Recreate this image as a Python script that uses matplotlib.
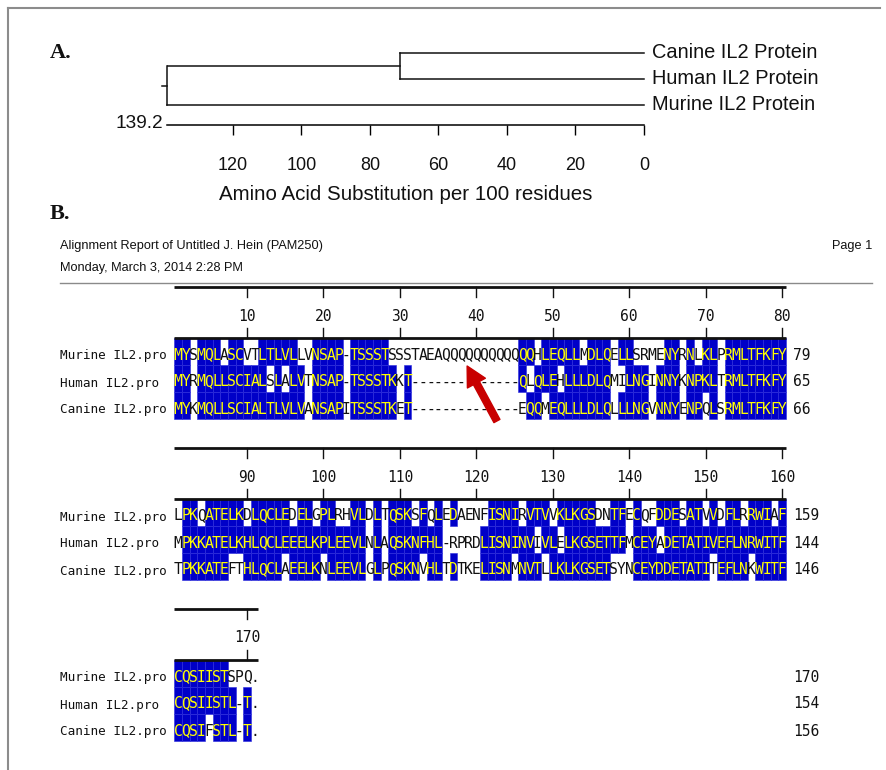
import matplotlib
matplotlib.use('Agg')
import matplotlib.pyplot as plt
from matplotlib import font_manager
from matplotlib.patches import Rectangle

W, H = 887, 770

# ---------------- panel A: distance tree ----------------
leaf_names = ['Canine IL2 Protein', 'Human IL2 Protein', 'Murine IL2 Protein']
node_dist = 71.2          # canine / human join
root_dist = 139.2
dist_ticks = [120, 100, 80, 60, 40, 20, 0]
dist_xlabel = 'Amino Acid Substitution per 100 residues'

# ---------------- panel B: alignment ----------------
seq_names = ['Murine IL2.pro', 'Human IL2.pro', 'Canine IL2.pro']
murine_blocks = [
    'MYSMQLASCVTLTLVLLVNSAP-TSSSTSSSTAEAQQQQQQQQQQQQHLEQLLMDLQELLSRMENYRNLKLPRMLTFKFY',
    'LPKQATELKDLQCLEDELGPLRHVLDLTQSKSFQLEDAENFISNIRVTVVKLKGSDNTFECQFDDESATVVDFLRRWIAF',
    'CQSIISTSPQ.',
]
human_blocks = [
    'MYRMQLLSCIALSLALVTNSAP-TSSSTKKT--------------QLQLEHLLLDLQMILNGINNYKNPKLTRMLTFKFY',
    'MPKKATELKHLQCLEEELKPLEEVLNLAQSKNFHL-RPRDLISNINVIVLELKGSETTFMCEYADETATIVEFLNRWITF',
    'CQSIISTL-T.',
]
canine_blocks = [
    'MYKMQLLSCIALTLVLVANSAPITSSSTKET--------------EQQMEQLLLDLQLLLNGVNNYENPQLSRMLTFKFY',
    'TPKKATEFTHLQCLAEELKNLEEVLGLPQSKNVHLTDTKELISNMNVTLLKLKGSETSYNCEYDDETATITEFLNKWITF',
    'CQSIFSTL-T.',
]
end_counts = [[79, 65, 66], [159, 144, 146], [170, 154, 156]]
ruler_ticks = [[10, 20, 30, 40, 50, 60, 70, 80],
               [90, 100, 110, 120, 130, 140, 150, 160],
               [170]]
report_title = 'Alignment Report of Untitled J. Hein (PAM250)'
report_date = 'Monday, March 3, 2014 2:28 PM'
page_label = 'Page 1'

BLUE = '#0000c8'
YELLOW = '#ffff00'
INK = '#111111'

names = {f.name for f in font_manager.fontManager.ttflist}
NARROW = 'Liberation Sans Narrow' if 'Liberation Sans Narrow' in names else None


def sans(em_px, narrow=True):
    # em_px = Arial-equivalent em size in pixels, width matched
    if narrow and NARROW:
        return dict(family=NARROW, fontsize=em_px / 0.82 * 0.72)
    return dict(family='Liberation Sans', fontsize=em_px * 0.72)


MONO = dict(family='DejaVu Sans Mono')

fig = plt.figure(figsize=(W / 100, H / 100), dpi=100)

# background canvas in pixel units
bg = fig.add_axes([0, 0, 1, 1])
bg.set_xlim(0, W)
bg.set_ylim(H, 0)
bg.axis('off')
bg.plot([8, 8], [8, H], color='#8c8c8c', lw=1.5)
bg.plot([8, 880], [8, 8], color='#8c8c8c', lw=1.5)

bg.text(50, 53, 'A.', family='Liberation Serif', weight='bold', fontsize=16,
        va='center', ha='left', color=INK)
bg.text(50, 214, 'B.', family='Liberation Serif', weight='bold', fontsize=16,
        va='center', ha='left', color=INK)

# ---------------- tree axes ----------------
tx0, tx1, ty0, ty1 = 167, 644, 40, 125
at = fig.add_axes([tx0 / W, 1 - ty1 / H, (tx1 - tx0) / W, (ty1 - ty0) / H])
at.set_xlim(root_dist, 0)
at.set_ylim(2 + 20 / 26, -0.5)
lw_tree = 1.1
for i in range(3):
    x_start = node_dist if i < 2 else root_dist
    at.plot([x_start, 0], [i, i], color=INK, lw=lw_tree, clip_on=False)
    at.text(-2.2, i, leaf_names[i], ha='left', va='center', color=INK,
            clip_on=False, **sans(20, narrow=False))
at.plot([node_dist, node_dist], [0, 1], color=INK, lw=lw_tree)
at.plot([node_dist, root_dist], [0.5, 0.5], color=INK, lw=lw_tree)
at.plot([root_dist, root_dist], [0.5, 2], color=INK, lw=lw_tree, clip_on=False)
at.plot([root_dist, root_dist + 1.5], [1.25, 1.25], color=INK, lw=lw_tree, clip_on=False)
for s in ['top', 'right', 'left']:
    at.spines[s].set_visible(False)
at.spines['bottom'].set_linewidth(1.1)
at.set_yticks([])
at.set_xticks(dist_ticks)
at.set_xticklabels([str(t) for t in dist_ticks], color=INK, **sans(18))
at.tick_params(axis='x', direction='out', length=7, width=1.0, pad=16)
at.set_xlabel(dist_xlabel, labelpad=8, color=INK, **sans(20.5, narrow=False))
at.patch.set_alpha(0)
bg.text(163, 124, '139.2', ha='right', va='center', color=INK, **sans(19))

# ---------------- report header ----------------
bg.text(60, 246, report_title, ha='left', va='center', color=INK, **sans(12.7))
bg.text(60, 268, report_date, ha='left', va='center', color=INK, **sans(12.7))
bg.text(872, 246, page_label, ha='right', va='center', color=INK, **sans(12.7))
bg.plot([60, 872], [283, 283], color='#8a8a8a', lw=1.0)

# ---------------- alignment blocks ----------------
col_w = 7.643
x_first = 174.4
pitch = 27
rule_gap = 51
for b in range(3):
    y_top = 287 + 161 * b
    ax = fig.add_axes([x_first / W, 1 - (y_top + 140) / H, 80 * col_w / W, 140 / H])
    c0 = 80 * b
    ax.set_xlim(c0 + 0.5, c0 + 80.5)
    ax.set_ylim(140, 0)
    ax.axis('off')
    rows = [murine_blocks[b], human_blocks[b], canine_blocks[b]]
    ncol = len(rows[0])
    # rulers
    ax.plot([c0 + 0.5, c0 + ncol + 0.5], [0, 0], color=INK, lw=2.0,
            solid_capstyle='butt', clip_on=False)
    ax.plot([c0 + 0.5, c0 + ncol + 0.5], [rule_gap, rule_gap], color=INK, lw=2.0,
            solid_capstyle='butt', clip_on=False)
    for t in ruler_ticks[b]:
        ax.plot([t, t], [0, 10], color=INK, lw=1.0, clip_on=False)
        ax.plot([t, t], [rule_gap - 10, rule_gap], color=INK, lw=1.0, clip_on=False)
        ax.text(t, 29, str(t), ha='center', va='center', color=INK,
                fontsize=10.5, clip_on=False, **MONO)
    # residues, shaded where they agree with the column consensus
    for r, seq in enumerate(rows):
        cell_top = rule_gap + pitch * r
        for j, ch in enumerate(seq):
            col = c0 + j + 1
            others = [rows[k][j] for k in range(3) if k != r]
            shaded = ch not in '-.' and ch in others
            if shaded:
                ax.add_patch(Rectangle((col - 0.5, cell_top), 1, pitch,
                                       facecolor=BLUE, edgecolor='#2b2bdc',
                                       lw=0.4, clip_on=False))
            ax.text(col, cell_top + 21.5, ch, ha='center', va='baseline',
                    color=YELLOW if shaded else INK, fontsize=10.5,
                    clip_on=False, zorder=3, **MONO)
        ax.text(c0 + 0.5 - 14.97, cell_top + 21.5, seq_names[r], ha='left',
                va='baseline', color=INK, fontsize=9.1, clip_on=False, **MONO)
        ax.text(c0 + 81.5, cell_top + 21.5, str(end_counts[b][r]), ha='left',
                va='baseline', color=INK, fontsize=10.5, clip_on=False, **MONO)
    if b == 0:
        # arrow marking the murine glutamine repeat
        ax.annotate('', xy=(38.8, 79), xytext=(42.7, 134),
                    arrowprops=dict(arrowstyle='simple,head_length=1.0,head_width=1.05,tail_width=0.35',
                                    mutation_scale=14, color='#c80000',
                                    shrinkA=0, shrinkB=0), annotation_clip=False)

fig.savefig('out.png', dpi=100)
